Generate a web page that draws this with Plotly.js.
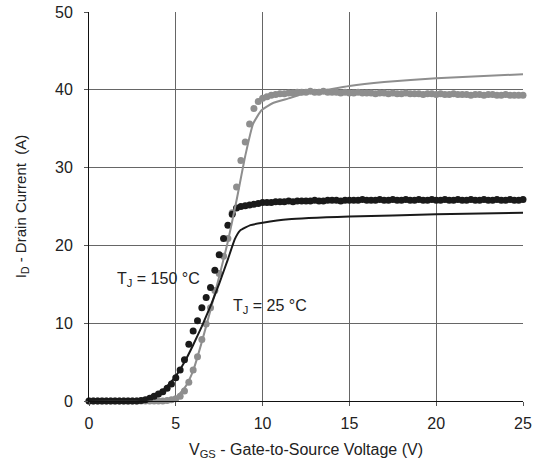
<!DOCTYPE html>
<html>
<head>
<meta charset="utf-8">
<script src="https://cdn.plot.ly/plotly-3.0.1.min.js"></script>
<style>html,body{margin:0;padding:0;background:#fff;}#chart{width:537px;height:460px;}</style>
</head>
<body>
<div id="chart"></div>
<script>
// Measured points (gate voltage samples)
var vgs = [
  0,0.25,0.5,0.75,1,1.25,1.5,1.75,2,2.25,
  2.5,2.75,3,3.25,3.5,3.75,4,4.25,4.5,4.75,
  5,5.25,5.5,5.75,6,6.25,6.5,6.75,7,7.25,
  7.5,7.75,8,8.25,8.5,8.75,9,9.25,9.5,9.75,
  10,10.25,10.5,10.75,11,11.25,11.5,11.75,12,12.25,
  12.5,12.75,13,13.25,13.5,13.75,14,14.25,14.5,14.75,
  15,15.25,15.5,15.75,16,16.25,16.5,16.75,17,17.25,
  17.5,17.75,18,18.25,18.5,18.75,19,19.25,19.5,19.75,
  20,20.25,20.5,20.75,21,21.25,21.5,21.75,22,22.25,
  22.5,22.75,23,23.25,23.5,23.75,24,24.25,24.5,24.75,
  25
];
// TJ = 150 °C measured (black dots)
var id150 = [
  0,0,0,0,0,0,0,0,0,0,
  0,0,0.05,0.15,0.35,0.6,0.9,1.2,1.65,2.2,
  3.0,4.0,5.3,7.3,9.0,10.3,12.0,13.3,14.6,16.8,
  18.8,20.9,22.6,24.0,24.8,25.0,25.1,25.2,25.3,25.4,
  25.5,25.5,25.5,25.6,25.6,25.6,25.7,25.6,25.7,25.7,
  25.7,25.7,25.8,25.7,25.7,25.8,25.8,25.8,25.7,25.8,
  25.8,25.8,25.8,25.9,25.8,25.8,25.8,25.9,25.8,25.8,
  25.9,25.8,25.8,25.9,25.8,25.8,25.9,25.8,25.8,25.9,
  25.8,25.8,25.9,25.8,25.8,25.9,25.8,25.8,25.9,25.8,
  25.8,25.9,25.8,25.8,25.9,25.8,25.8,25.9,25.8,25.8,
  25.9
];
// TJ = 25 °C measured (gray dots)
var id25 = [
  0,0,0,0,0,0,0,0,0,0,
  0,0,0,0,0,0,0,0,0.05,0.15,
  0.3,0.6,1.3,2.4,4.0,5.7,7.9,9.9,12.0,14.2,
  16.4,18.6,20.9,24.2,27.5,30.9,33.3,35.6,37.6,38.5,
  38.9,39.1,39.3,39.4,39.5,39.5,39.6,39.6,39.7,39.7,
  39.7,39.8,39.7,39.7,39.8,39.7,39.7,39.7,39.6,39.7,
  39.6,39.6,39.7,39.6,39.6,39.6,39.5,39.6,39.6,39.5,
  39.6,39.5,39.5,39.6,39.5,39.5,39.5,39.4,39.5,39.5,
  39.4,39.5,39.4,39.4,39.5,39.4,39.4,39.4,39.3,39.4,
  39.4,39.3,39.4,39.4,39.3,39.3,39.4,39.3,39.3,39.3,
  39.3
];
// Model curves
var model25X = [0,4.5,5.0,5.25,5.6,6.0,6.5,7.0,7.5,8.0,8.5,9.0,9.45,9.95,10.6,11.5,12.2,13.7,15,17,20,25];
var model25Y = [0,0,0.4,1.0,2.0,3.9,7.6,11.7,16.0,20.5,25.8,31.5,35.6,37.4,38.3,38.9,39.4,40.0,40.5,41.0,41.5,42.0];
var model150X = [0,3.0,3.5,4.0,4.5,5.0,5.5,6.0,6.5,7.0,7.5,8.0,8.4,8.7,9.3,10.0,11.5,15,20,25];
var model150Y = [0,0,0.25,0.8,1.9,3.2,5.0,7.2,9.6,12.2,15.1,18.2,20.8,21.9,22.6,22.9,23.35,23.7,24.0,24.2];

var xTicks = [0,5,10,15,20,25];
var yTicks = [0,10,20,30,40,50];

var gray = '#8e8e8e';
var black = '#1a1a1a';

var traces = [
  {x: vgs, y: id25, mode: 'markers', type: 'scatter', cliponaxis: false,
   marker: {color: gray, size: 7}},
  {x: vgs, y: id150, mode: 'markers', type: 'scatter', cliponaxis: false,
   marker: {color: black, size: 7}},
  {x: model25X, y: model25Y, mode: 'lines', type: 'scatter',
   line: {color: gray, width: 2, shape: 'spline', smoothing: 0.5}},
  {x: model150X, y: model150Y, mode: 'lines', type: 'scatter',
   line: {color: black, width: 2, shape: 'spline', smoothing: 0.4}}
];

var fam = 'Liberation Sans, Arial, Helvetica, sans-serif';
var tickFont = {family: fam, size: 16, color: '#222'};
var xTitleFont = {family: fam, size: 16, color: '#222'};
var yTitleFont = {family: fam, size: 15, color: '#222'};
var noteFont = {family: fam, size: 16, color: '#222'};

var layout = {
  width: 537, height: 460,
  margin: {l: 89, r: 14, t: 12, b: 59},
  paper_bgcolor: '#fff', plot_bgcolor: '#fff',
  showlegend: false,
  font: tickFont,
  xaxis: {
    range: [0, 25], tickvals: xTicks, ticktext: xTicks.map(String),
    showgrid: true, gridcolor: '#666', gridwidth: 1,
    zeroline: false, showline: true, linecolor: '#111', linewidth: 1,
    ticks: 'outside', ticklen: 4, tickcolor: '#555', ticklabelstandoff: 4,
    tickfont: tickFont,
    title: {text: 'V<sub>GS</sub> - Gate-to-Source Voltage (V)', font: xTitleFont, standoff: 14}
  },
  yaxis: {
    range: [0, 50], tickvals: yTicks, ticktext: yTicks.map(String),
    showgrid: true, gridcolor: '#666', gridwidth: 1,
    zeroline: false, showline: true, linecolor: '#111', linewidth: 1,
    ticks: 'outside', ticklen: 4, tickcolor: '#555', ticklabelstandoff: 8,
    tickfont: tickFont,
    title: {text: 'I<sub>D</sub> - Drain Current \u00a0(A)', font: yTitleFont, standoff: 24}
  },
  annotations: [
    {x: 1.5, y: 15.6, xref: 'x', yref: 'y', xanchor: 'left', yanchor: 'middle',
     text: 'T<sub>J</sub> = 150 °C', showarrow: false, font: noteFont},
    {x: 8.2, y: 12.1, xref: 'x', yref: 'y', xanchor: 'left', yanchor: 'middle',
     text: 'T<sub>J</sub> = 25 °C', showarrow: false, font: noteFont}
  ]
};

Plotly.newPlot('chart', traces, layout, {displayModeBar: false, staticPlot: true});
</script>
</body>
</html>
